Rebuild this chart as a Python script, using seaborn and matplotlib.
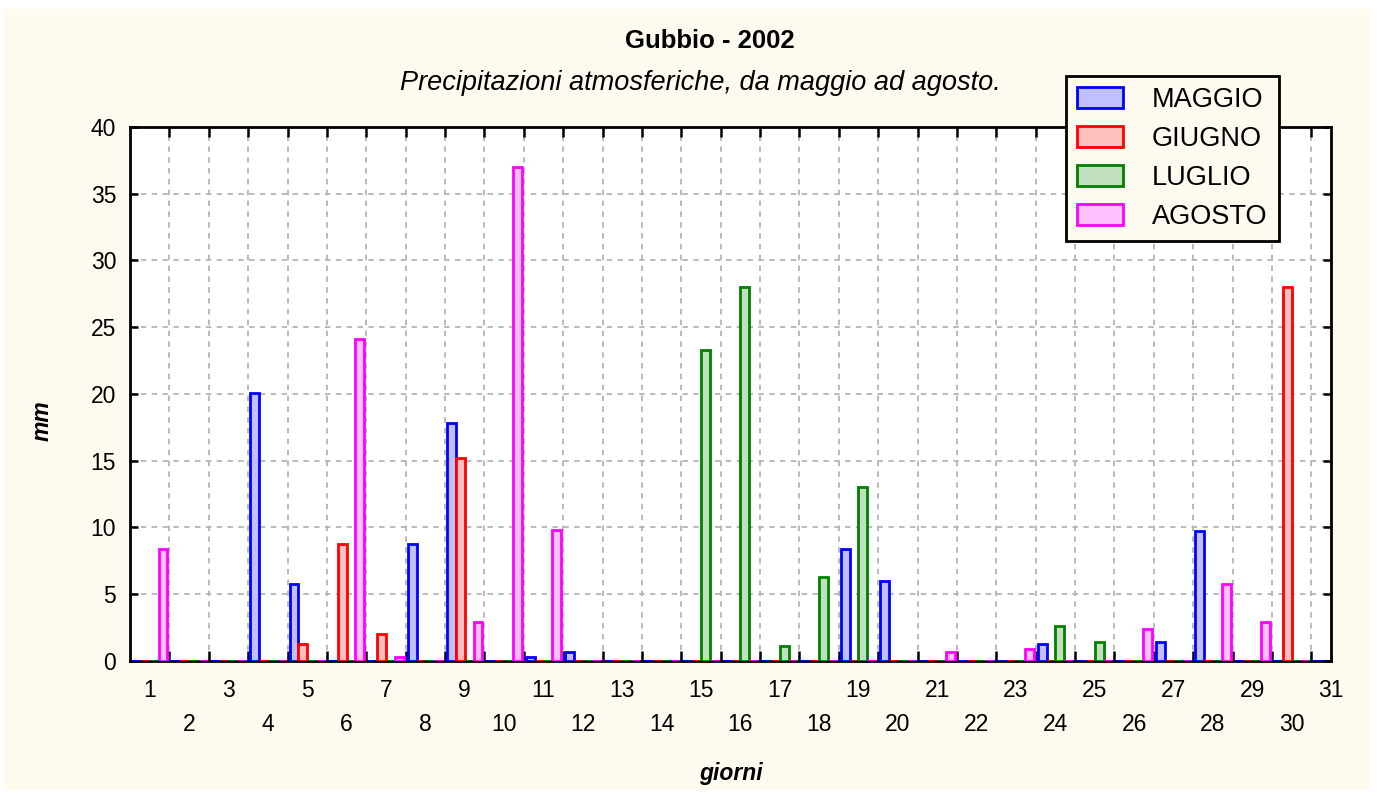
import numpy as np
import pandas as pd
import seaborn as sns
import matplotlib.pyplot as plt
from matplotlib.patches import Rectangle
from matplotlib.ticker import MultipleLocator, FixedLocator

sns.set_style("white")
plt.rcParams["font.family"] = ["Liberation Sans", "DejaVu Sans"]
plt.rcParams["text.color"] = "black"
plt.rcParams["axes.labelcolor"] = "black"
plt.rcParams["xtick.color"] = "black"
plt.rcParams["ytick.color"] = "black"
fontsize = 16.5

days = list(range(1, 32))
months = ["MAGGIO", "GIUGNO", "LUGLIO", "AGOSTO"]

maggio = [0, 0, 0, 20.1, 5.8, 0, 0, 8.8, 17.8, 0, 0.3, 0.7, 0, 0, 0, 0,
          0, 0, 8.4, 6.0, 0, 0, 0, 1.3, 0, 0, 1.4, 9.7, 0, 0, 0]
giugno = [0, 0, 0, 0, 1.3, 8.8, 2.0, 0, 15.2, 0, 0, 0, 0, 0, 0, 0,
          0, 0, 0, 0, 0, 0, 0, 0, 0, 0, 0, 0, 0, 28.0, np.nan]
luglio = [0, 0, 0, 0, 0, 0, 0, 0, 0, 0, 0, 0, 0, 0, 23.3, 28.0,
          1.1, 6.3, 13.0, 0, 0, 0, 0, 2.6, 1.4, 0, 0, 0, 0, 0, 0]
agosto = [8.4, 0, 0, 0, 0, 24.1, 0.3, 0, 2.9, 37.0, 9.8, 0, 0, 0, 0, 0,
          0, 0, 0, 0, 0.7, 0, 0.9, 0, 0, 2.4, 0, 5.8, 2.9, 0, 0]

edge_colors = ["#0000ff", "#ff0000", "#008000", "#ff00ff"]
fill_colors = ["#c0c0ff", "#ffc0c0", "#c0e0c0", "#ffc0ff"]

df = pd.DataFrame({"giorno": [str(d) for d in days] * 4,
                   "mese": np.repeat(months, len(days)),
                   "mm": maggio + giugno + luglio + agosto})
df = df.dropna()

fig = plt.figure(figsize=(13.79, 7.96), dpi=100)
fig.patch.set_facecolor("white")
fig.patches.append(Rectangle((0.003, 0.007), 0.991, 0.982, transform=fig.transFigure,
                             facecolor="#fffaf0", edgecolor="none", zorder=-10))
ax = fig.add_axes([0.0943, 0.1696, 0.8709, 0.6709])
ax.set_facecolor("white")

sns.barplot(data=df, x="giorno", y="mm", hue="mese", hue_order=months,
            order=[str(d) for d in days], palette=fill_colors, width=0.9,
            errorbar=None, legend=False, ax=ax, zorder=3)

# colored outlines, zero days stay visible as flat lines
for i, cont in enumerate(ax.containers):
    for bar in cont:
        bar.set_edgecolor(edge_colors[i])
        bar.set_facecolor(fill_colors[i])
        bar.set_linewidth(2.0)

ax.set_xlim(-0.5, 30.0)
ax.set_ylim(0, 40)
ax.yaxis.set_major_locator(MultipleLocator(5))
ax.xaxis.set_minor_locator(FixedLocator([i + 0.5 for i in range(30)]))

labels = [str(d) if d % 2 == 1 else "\n" + str(d) for d in days]
ax.set_xticks(range(31))
ax.set_xticklabels(labels, fontsize=fontsize)
for lbl in ax.get_xticklabels():
    lbl.set_linespacing(1.6)
ax.tick_params(axis="x", which="major", length=0, pad=13)
ax.tick_params(axis="x", which="minor", direction="in", length=7, width=1.8,
               top=True, bottom=True, color="black")
ax.tick_params(axis="y", which="major", direction="in", length=6, width=1.8,
               left=True, right=True, labelsize=fontsize, pad=10, color="black")

ax.grid(False)
ax.grid(True, axis="y", which="major", linestyle=(0, (3, 3)), color="#b4b4b4", linewidth=1.3, zorder=0)
ax.grid(True, axis="x", which="minor", linestyle=(0, (3, 3)), color="#b4b4b4", linewidth=1.3, zorder=0)
ax.set_axisbelow(True)

for s in ax.spines.values():
    s.set_visible(True)
    s.set_color("black")
    s.set_linewidth(2)

ax.set_xlabel("giorni", fontsize=fontsize, fontweight="bold", style="italic")
ax.xaxis.set_label_coords(0.5, -0.19)
ax.set_ylabel("mm", fontsize=fontsize, fontweight="bold", style="italic")
ax.yaxis.set_label_coords(-0.064, 0.45)

fig.text(0.515, 0.949, "Gubbio - 2002", ha="center", va="center", fontsize=18.5, fontweight="bold")
fig.text(0.508, 0.896, "Precipitazioni atmosferiche, da maggio ad agosto.", ha="center", va="center",
         fontsize=19.5, style="italic")

leg = fig.legend(handles=ax.containers, labels=months, loc="upper left", bbox_to_anchor=(0.773, 0.905),
                 fontsize=19.5, frameon=True, fancybox=False, handlelength=1.7, handleheight=0.8,
                 labelspacing=0.48, handletextpad=1.05, borderpad=0.42, borderaxespad=0)
leg.get_frame().set_edgecolor("black")
leg.get_frame().set_linewidth(2)
leg.get_frame().set_facecolor("#fffaf0")
leg.get_frame().set_alpha(1)

plt.savefig("out.png", dpi=100)
